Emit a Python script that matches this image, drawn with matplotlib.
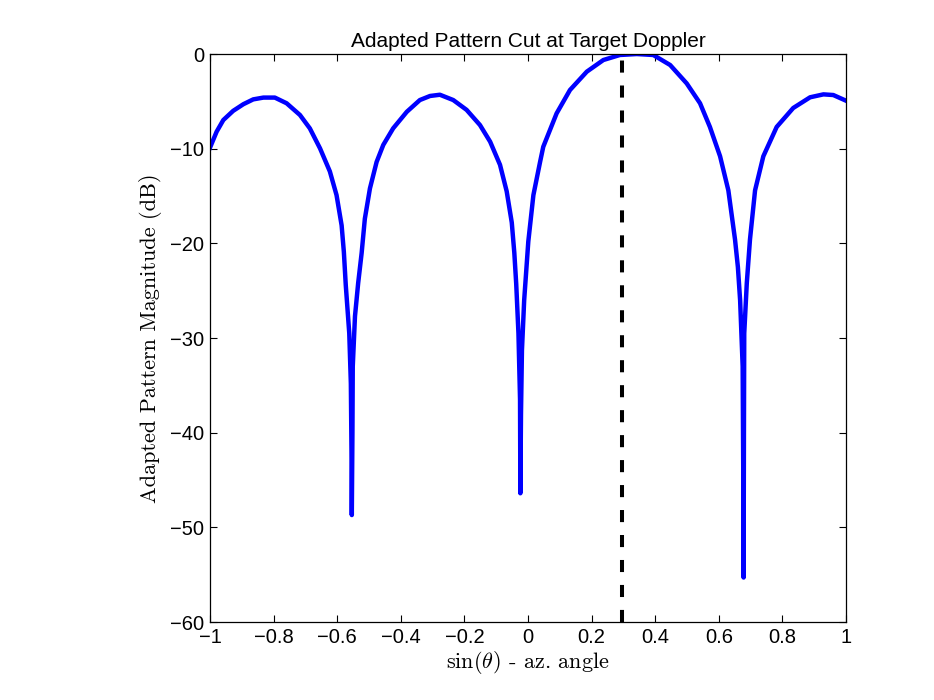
import matplotlib
matplotlib.use('Agg')
import matplotlib.pyplot as plt

# pattern cut (sin(theta), dB)
sin_theta = [-1.000, -0.979, -0.958, -0.927, -0.895, -0.864, -0.832, -0.796, -0.759,
             -0.717, -0.686, -0.654, -0.623, -0.602, -0.586, -0.579, -0.573, -0.562,
             -0.557, -0.555, -0.554, -0.552, -0.551, -0.544, -0.534, -0.523, -0.513,
             -0.497, -0.476, -0.455, -0.424, -0.381, -0.340, -0.308, -0.277, -0.235,
             -0.193, -0.151, -0.119, -0.088, -0.067, -0.051, -0.043, -0.037, -0.030,
             -0.025, -0.024, -0.022, -0.019, -0.012, 0.001, 0.017, 0.038, 0.048,
             0.090, 0.132, 0.185, 0.237, 0.289, 0.342, 0.394, 0.447, 0.499, 0.541,
             0.572, 0.604, 0.630, 0.651, 0.660, 0.667, 0.675, 0.677, 0.678, 0.679,
             0.680, 0.688, 0.698, 0.714, 0.740, 0.782, 0.834, 0.887, 0.929, 0.960,
             1.000]
pattern_db = [-9.9, -8.2, -6.97, -6.0, -5.3, -4.79, -4.6, -4.6, -5.2,
              -6.44, -7.85, -9.96, -12.4, -14.9, -18.1, -20.9, -24.4, -29.5,
              -34.8, -42.0, -48.7, -40.0, -33.0, -27.7, -24.2, -21.0, -17.4,
              -14.2, -11.4, -9.6, -7.85, -6.1, -4.86, -4.43, -4.3, -4.86,
              -5.9, -7.5, -9.26, -11.7, -14.5, -17.8, -21.0, -24.3, -29.5,
              -36.5, -46.4, -38.0, -31.3, -26.0, -19.8, -14.9, -11.4, -9.8,
              -6.27, -3.8, -1.86, -0.63, -0.1, 0.0, -0.1, -1.16, -3.1, -5.2,
              -7.7, -10.8, -14.4, -19.6, -22.5, -26.0, -33.0, -45.0, -55.3, -40.0,
              -29.5, -24.2, -19.6, -14.4, -10.8, -7.7, -5.7, -4.57, -4.26, -4.33,
              -4.93]

target_sin = 0.296

x_ticks = [-1, -0.8, -0.6, -0.4, -0.2, 0, 0.2, 0.4, 0.6, 0.8, 1]
x_tick_labels = ['\u22121', '\u22120.8', '\u22120.6', '\u22120.4', '\u22120.2', '0',
                 '0.2', '0.4', '0.6', '0.8', '1']
y_ticks = [-60, -50, -40, -30, -20, -10, 0]
y_tick_labels = ['\u221260', '\u221250', '\u221240', '\u221230', '\u221220', '\u221210', '0']

plt.rcParams['font.family'] = ['Liberation Sans', 'DejaVu Sans']
plt.rcParams['mathtext.fontset'] = 'cm'

fig = plt.figure(figsize=(9.34, 7.0), dpi=100)
ax = fig.add_axes([0.2248, 0.1114, 0.681, 0.8114])

ax.plot(sin_theta, pattern_db, color='#0000ff', linewidth=3.2,
        solid_joinstyle='round')
ax.plot([target_sin, target_sin], [-60, 0], color='black', linewidth=2.9,
        linestyle=(0, (3.0, 3.2)))

ax.set_xlim(-1, 1)
ax.set_ylim(-60, 0)
ax.set_xticks(x_ticks)
ax.set_xticklabels(x_tick_labels)
ax.set_yticks(y_ticks)
ax.set_yticklabels(y_tick_labels)
ax.tick_params(direction='in', length=5, width=0.8, top=True, right=True,
               labelsize=14.5, pad=4)
for s in ax.spines.values():
    s.set_linewidth(0.9)

ax.set_title('Adapted Pattern Cut at Target Doppler', fontsize=15, pad=5)
ax.set_xlabel(r'$\sin(\theta)$ - az. angle', fontsize=16, family='cmr10', labelpad=2)
ax.set_ylabel('Adapted Pattern Magnitude (dB)', fontsize=16, family='cmr10', labelpad=6)

fig.savefig('out.png', dpi=100)
